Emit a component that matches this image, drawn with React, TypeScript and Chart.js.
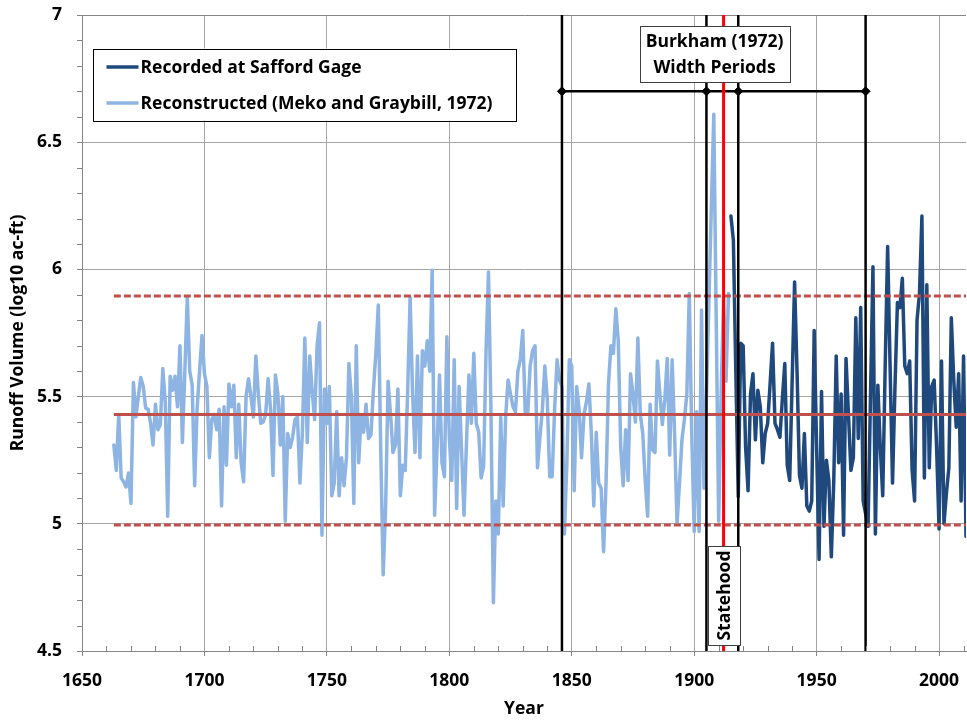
import React, { useEffect, useRef } from 'react';
import { Chart, registerables } from 'chart.js';

Chart.register(...registerables);

// ---------- data ----------
const reconstructedStart = 1663;
const reconstructed = [
  5.31, 5.21, 5.43, 5.18, 5.165, 5.145, 5.2,
  5.08, 5.555, 5.42, 5.5, 5.575, 5.54, 5.455, 5.45, 5.395, 5.31,
  5.47, 5.37, 5.39, 5.61, 5.48, 5.03, 5.58, 5.525, 5.58, 5.46,
  5.7, 5.32, 5.6, 5.89, 5.6, 5.545, 5.15, 5.45, 5.6, 5.74,
  5.59, 5.54, 5.26, 5.41, 5.43, 5.37, 5.45, 5.07, 5.46, 5.23,
  5.55, 5.46, 5.545, 5.26, 5.47, 5.24, 5.165, 5.5, 5.57, 5.5,
  5.42, 5.66, 5.51, 5.395, 5.4, 5.43, 5.57, 5.45, 5.19, 5.585,
  5.51, 5.31, 5.5, 5.01, 5.355, 5.3, 5.34, 5.41, 5.42, 5.16,
  5.36, 5.73, 5.32, 5.66, 5.52, 5.41, 5.7, 5.79, 4.955, 5.53,
  5.395, 5.54, 5.11, 5.16, 5.44, 5.11, 5.26, 5.15, 5.26, 5.63,
  5.5, 5.08, 5.7, 5.24, 5.43, 5.36, 5.47, 5.335, 5.35, 5.525,
  5.67, 5.86, 5.29, 4.8, 5.07, 5.56, 5.43, 5.28, 5.31, 5.53,
  5.11, 5.23, 5.21, 5.525, 5.89, 5.51, 5.28, 5.66, 5.26, 5.68,
  5.62, 5.72, 5.6, 5.997, 5.034, 5.3, 5.585, 5.24, 5.185, 5.735,
  5.34, 5.17, 5.645, 5.06, 5.54, 5.29, 5.034, 5.315, 5.585, 5.395,
  5.67, 5.395, 5.36, 5.18, 5.225, 5.68, 5.99, 5.45, 4.69, 5.09,
  4.96, 5.42, 5.07, 5.42, 5.565, 5.51, 5.46, 5.44, 5.6, 5.645,
  5.76, 5.44, 5.43, 5.62, 5.68, 5.7, 5.22, 5.34, 5.45, 5.62,
  5.49, 5.185, 5.185, 5.45, 5.645, 5.565, 5.54, 4.96, 5.24, 5.645,
  5.62, 5.13, 5.54, 5.45, 5.26, 5.43, 5.48, 5.55, 5.355, 5.07,
  5.36, 5.16, 5.14, 4.89, 5.16, 5.55, 5.7, 5.67, 5.845, 5.72,
  5.3, 5.15, 5.37, 5.17, 5.59, 5.51, 5.4, 5.73, 5.43, 5.355,
  5.17, 5.03, 5.47, 5.29, 5.28, 5.64, 5.51, 5.39, 5.49, 5.65,
  5.27, 5.645, 5.355, 5.0, 5.16, 5.33, 5.41, 5.51, 5.905, 5.355,
  4.97, 5.44, 4.97, 5.84, 5.14, 5.5, 5.87, 6.24, 6.61, 5.8,
  5.01, 5.51, 5.89, 5.56, 5.905,
];

const recordedStart = 1915;
const recorded = [
  6.21, 6.115, 5.6, 5.106, 5.71,
  5.7, 5.3, 5.13, 5.51, 5.59, 5.33, 5.525, 5.46, 5.24, 5.355,
  5.395, 5.55, 5.71, 5.395, 5.37, 5.34, 5.49, 5.63, 5.23, 5.17,
  5.56, 5.95, 5.6, 5.19, 5.14, 5.355, 5.07, 5.05, 5.09, 5.76,
  5.3, 4.86, 5.52, 4.99, 5.25, 5.17, 4.87, 5.17, 5.66, 5.24,
  5.51, 4.955, 5.65, 5.43, 5.21, 5.26, 5.81, 5.335, 5.85, 5.09,
  5.04, 4.99, 5.5, 6.01, 4.96, 5.545, 5.3, 5.11, 5.62, 6.09,
  5.62, 5.16, 5.54, 5.87, 5.85, 5.965, 5.62, 5.59, 5.64, 5.21,
  5.09, 5.8, 5.905, 6.21, 5.18, 5.94, 5.22, 5.54, 5.565, 5.3,
  4.98, 5.64, 5.0, 5.12, 5.22, 5.81, 5.565, 5.38, 5.59, 5.09,
  5.66, 4.95,
];

const meanLevel = 5.43;
const upperLevel = 5.895;
const lowerLevel = 4.995;
const levelRange = [1663, 2011];

const periodYears = [1846, 1905, 1918, 1970];
const periodLevel = 6.7;
const statehoodYear = 1912;

const xRange = [1650, 2011];
const yRange = [4.5, 7];

const legendLabels = ['Recorded at Safford Gage', 'Reconstructed (Meko and Graybill, 1972)'];
const burkhamLines = ['Burkham (1972)', 'Width Periods'];
const statehoodLabel = 'Statehood';

// ---------- styles ----------
const FONT = '"Open Sans", "Noto Sans", sans-serif';
const FSIZE = 17.5;
const DARK = '#1F497D';
const LIGHT = '#8DB4E2';
const RED = '#C0504D';
const GRID = '#A6A6A6';
const AXIS = '#868686';

const toPoints = (start: number, vals: number[]) => vals.map((v, i) => ({ x: start + i, y: v }));

const decorPlugin = {
  id: 'decor',
  afterDatasetsDraw(chart: any) {
    const { ctx, chartArea, scales } = chart;
    const x = scales.x;
    const y = scales.y;
    ctx.save();
    // minor ticks
    ctx.strokeStyle = AXIS;
    ctx.lineWidth = 1;
    ctx.beginPath();
    for (let yr = xRange[0] + 10; yr <= xRange[1]; yr += 10) {
      if (yr % 50 === 0) continue;
      const px = Math.round(x.getPixelForValue(yr)) + 0.5;
      ctx.moveTo(px, chartArea.bottom);
      ctx.lineTo(px, chartArea.bottom - 5);
    }
    for (let i = 1; i < 25; i++) {
      if (i % 5 === 0) continue;
      const py = Math.round(y.getPixelForValue(yRange[0] + i * 0.1)) + 0.5;
      ctx.moveTo(chartArea.left, py);
      ctx.lineTo(chartArea.left - 5, py);
    }
    ctx.stroke();

    ctx.font = `bold ${FSIZE}px ${FONT}`;
    ctx.fillStyle = '#000';

    // Burkham box
    const bcx = x.getPixelForValue(1908.3);
    const bcy = y.getPixelForValue(6.845);
    const bw = 150, bh = 56;
    ctx.fillStyle = '#fff';
    ctx.fillRect(bcx - bw / 2, bcy - bh / 2, bw, bh);
    ctx.strokeStyle = '#404040';
    ctx.lineWidth = 1;
    ctx.strokeRect(Math.round(bcx - bw / 2) + 0.5, Math.round(bcy - bh / 2) + 0.5, bw, bh);
    ctx.fillStyle = '#000';
    ctx.textAlign = 'center';
    ctx.textBaseline = 'middle';
    ctx.fillText(burkhamLines[0], bcx, bcy - 12);
    ctx.fillText(burkhamLines[1], bcx, bcy + 14);

    // Statehood box
    const scx = x.getPixelForValue(statehoodYear) + 0.6;
    const scy = y.getPixelForValue(4.718);
    const sw = 32, sh = 99;
    ctx.fillStyle = '#fff';
    ctx.fillRect(scx - sw / 2, scy - sh / 2, sw, sh);
    ctx.strokeStyle = '#404040';
    ctx.strokeRect(Math.round(scx - sw / 2) + 0.5, Math.round(scy - sh / 2) + 0.5, sw, sh);
    ctx.save();
    ctx.translate(scx + 1, scy);
    ctx.rotate(-Math.PI / 2);
    ctx.fillStyle = '#000';
    ctx.fillText(statehoodLabel, 0, 0);
    ctx.restore();

    // Legend
    const lx = chartArea.left + 10.5;
    const ly = chartArea.top + 33.5;
    const lw = 423, lh = 72;
    ctx.fillStyle = '#fff';
    ctx.fillRect(lx, ly, lw, lh);
    ctx.strokeStyle = '#000';
    ctx.lineWidth = 1;
    ctx.strokeRect(Math.round(lx) + 0.5, Math.round(ly) + 0.5, lw, lh);
    const rows = [ly + 18.5, ly + 54.5];
    const cols = [DARK, LIGHT];
    rows.forEach((ry, i) => {
      ctx.strokeStyle = cols[i];
      ctx.lineWidth = 3.5;
      ctx.beginPath();
      ctx.moveTo(lx + 14, ry);
      ctx.lineTo(lx + 46, ry);
      ctx.stroke();
      ctx.fillStyle = '#000';
      ctx.textAlign = 'left';
      ctx.textBaseline = 'middle';
      ctx.fillText(legendLabels[i], lx + 48, ry + 1);
    });
    ctx.restore();
  },
};

export default function App() {
  const ref = useRef<HTMLCanvasElement | null>(null);

  useEffect(() => {
    let chart: Chart | null = null;
    let cancelled = false;
    const build = () => {
      if (cancelled || !ref.current) return;
      const vertical = (yr: number, color: string, width: number, order: number) => ({
        data: [{ x: yr, y: yRange[0] }, { x: yr, y: yRange[1] }],
        borderColor: color,
        borderWidth: width,
        pointRadius: 0,
        order,
      });
      const level = (v: number, dashed: boolean) => ({
        data: [{ x: levelRange[0], y: v }, { x: levelRange[1], y: v }],
        borderColor: RED,
        borderWidth: 3,
        borderDash: dashed ? [7, 3] : [],
        pointRadius: 0,
        order: 10,
      });
      const tickFont = { family: FONT, size: FSIZE, weight: 'bold' };
      const datasets: any[] = [
        {
          label: legendLabels[1],
          data: toPoints(reconstructedStart, reconstructed),
          borderColor: LIGHT,
          borderWidth: 3.5,
          pointRadius: 0,
          borderJoinStyle: 'round',
          borderCapStyle: 'round',
          order: 21,
        },
        {
          label: legendLabels[0],
          data: toPoints(recordedStart, recorded),
          borderColor: DARK,
          borderWidth: 3.5,
          pointRadius: 0,
          borderJoinStyle: 'round',
          borderCapStyle: 'round',
          order: 20,
        },
        level(meanLevel, false),
        level(upperLevel, true),
        level(lowerLevel, true),
        ...periodYears.map((yr) => vertical(yr, '#000', 2.5, 5)),
        {
          data: periodYears.map((yr) => ({ x: yr, y: periodLevel })),
          borderColor: '#000',
          borderWidth: 2.5,
          pointStyle: 'rectRot',
          pointRadius: 4.5,
          pointBackgroundColor: '#000',
          pointBorderColor: '#000',
          pointBorderWidth: 1,
          order: 4,
        },
        vertical(statehoodYear, '#FF0000', 3, 3),
      ];

      chart = new Chart(ref.current, {
        type: 'line',
        data: { datasets },
        plugins: [decorPlugin],
        options: {
          animation: false,
          responsive: false,
          devicePixelRatio: 1,
          layout: { autoPadding: false, padding: { top: 15, right: 1, left: 0, bottom: 0 } },
          plugins: { legend: { display: false }, tooltip: { enabled: false } },
          elements: { line: { tension: 0 } },
          scales: {
            x: {
              type: 'linear',
              min: xRange[0],
              max: xRange[1],
              afterFit: (s: any) => { s.height = 69; s.paddingLeft = 0; s.paddingRight = 0; },
              grid: {
                color: (c: any) => (c.tick && c.tick.value === xRange[0] ? AXIS : GRID),
                lineWidth: 1,
                tickLength: 5,
                tickColor: AXIS,
              },
              border: { color: AXIS, width: 1 },
              ticks: {
                stepSize: 50,
                includeBounds: false,
                autoSkip: false,
                maxRotation: 0,
                padding: 15,
                color: '#000',
                font: tickFont,
                callback: (v: any) => String(v),
              },
              title: {
                display: true,
                text: 'Year',
                color: '#000',
                font: tickFont,
                padding: { top: 0, bottom: 0 },
              },
            },
            y: {
              type: 'linear',
              min: yRange[0],
              max: yRange[1],
              afterFit: (s: any) => { s.width = 82; s.paddingTop = 0; s.paddingBottom = 0; },
              grid: {
                color: (c: any) => (c.tick && c.tick.value === yRange[1] ? AXIS : GRID),
                lineWidth: 1,
                tickLength: 5,
                tickColor: AXIS,
              },
              border: { color: AXIS, width: 1 },
              ticks: {
                stepSize: 0.5,
                padding: 15,
                color: '#000',
                font: tickFont,
                callback: (v: any) => String(Math.round(Number(v) * 10) / 10),
              },
              title: {
                display: true,
                text: 'Runoff Volume (log10 ac-ft)',
                color: '#000',
                font: tickFont,
                padding: { top: 8, bottom: 0 },
              },
            },
          },
        },
      } as any);
    };
    const fontsReady = (document as any).fonts && (document as any).fonts.load
      ? Promise.all([
          (document as any).fonts.load(`bold ${FSIZE}px "Open Sans"`),
        ]).catch(() => null)
      : Promise.resolve(null);
    fontsReady.then(build);
    return () => {
      cancelled = true;
      if (chart) chart.destroy();
    };
  }, []);

  return (
    <div style={{ position: 'absolute', left: 0, top: 0, width: 967, height: 720, background: '#fff' }}>
      <canvas ref={ref} width={967} height={720} style={{ display: 'block', width: 967, height: 720 }} />
    </div>
  );
}
